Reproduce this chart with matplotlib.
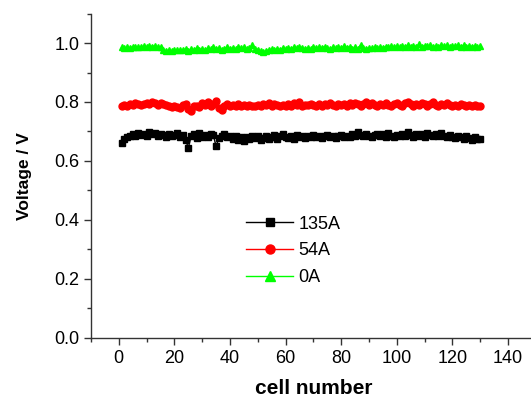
import numpy as np
import matplotlib
matplotlib.use("Agg")
import matplotlib.pyplot as plt
from matplotlib.ticker import MultipleLocator, FormatStrFormatter

cells = np.arange(1, 131)

v_0A = [0.985, 0.982, 0.986, 0.984, 0.987, 0.985, 0.988, 0.986, 0.989, 0.987,
        0.990, 0.988, 0.991, 0.987, 0.986, 0.975, 0.972, 0.976, 0.974, 0.977,
        0.975, 0.978, 0.976, 0.979, 0.974, 0.980, 0.977, 0.983, 0.978, 0.981,
        0.976, 0.982, 0.979, 0.985, 0.980, 0.983, 0.977, 0.981, 0.986, 0.979,
        0.984, 0.980, 0.988, 0.982, 0.985, 0.979, 0.983, 0.992, 0.981, 0.978,
        0.972, 0.970, 0.974, 0.976, 0.979, 0.977, 0.981, 0.978, 0.983, 0.980,
        0.984, 0.981, 0.986, 0.982, 0.988, 0.983, 0.980, 0.984, 0.981, 0.985,
        0.982, 0.986, 0.983, 0.988, 0.984, 0.980, 0.985, 0.982, 0.987, 0.983,
        0.989, 0.984, 0.988, 0.981, 0.985, 0.979, 0.994, 0.983, 0.980, 0.984,
        0.982, 0.986, 0.983, 0.987, 0.984, 0.988, 0.985, 0.989, 0.986, 0.990,
        0.985, 0.991, 0.987, 0.993, 0.986, 0.990, 0.988, 0.995, 0.987, 0.991,
        0.989, 0.993, 0.986, 0.990, 0.988, 0.994, 0.989, 0.992, 0.987, 0.991,
        0.989, 0.993, 0.988, 0.992, 0.987, 0.991, 0.988, 0.990, 0.986, 0.989]

v_54A = [0.785, 0.790, 0.788, 0.793, 0.790, 0.796, 0.792, 0.789, 0.794, 0.798,
         0.793, 0.799, 0.795, 0.791, 0.797, 0.794, 0.790, 0.786, 0.783, 0.788,
         0.784, 0.778, 0.790, 0.793, 0.775, 0.770, 0.785, 0.788, 0.782, 0.795,
         0.790, 0.800, 0.787, 0.793, 0.805, 0.778, 0.772, 0.788, 0.792, 0.786,
         0.790, 0.787, 0.792, 0.785, 0.789, 0.786, 0.791, 0.788, 0.785, 0.790,
         0.787, 0.792, 0.789, 0.795, 0.788, 0.793, 0.790, 0.786, 0.791, 0.788,
         0.792, 0.787, 0.795, 0.790, 0.800, 0.786, 0.791, 0.789, 0.794, 0.790,
         0.787, 0.792, 0.788, 0.794, 0.790, 0.796, 0.791, 0.787, 0.793, 0.789,
         0.792, 0.788, 0.795, 0.790, 0.798, 0.792, 0.788, 0.794, 0.801, 0.790,
         0.796, 0.791, 0.787, 0.793, 0.789, 0.795, 0.790, 0.786, 0.792, 0.797,
         0.791, 0.788, 0.795, 0.799, 0.792, 0.788, 0.794, 0.790, 0.797, 0.792,
         0.787, 0.793, 0.799, 0.791, 0.786, 0.792, 0.789, 0.795, 0.790, 0.787,
         0.791, 0.788, 0.793, 0.789, 0.786, 0.790, 0.787, 0.789, 0.785, 0.786]

v_135A = [0.660, 0.675, 0.680, 0.686, 0.690, 0.684, 0.694, 0.688, 0.692, 0.686,
          0.698, 0.690, 0.694, 0.685, 0.691, 0.687, 0.680, 0.692, 0.684, 0.688,
          0.696, 0.681, 0.688, 0.672, 0.645, 0.683, 0.690, 0.678, 0.694, 0.682,
          0.688, 0.680, 0.692, 0.687, 0.650, 0.678, 0.684, 0.690, 0.680, 0.686,
          0.676, 0.684, 0.672, 0.680, 0.669, 0.682, 0.675, 0.686, 0.678, 0.683,
          0.671, 0.679, 0.686, 0.673, 0.680, 0.688, 0.676, 0.683, 0.690, 0.681,
          0.679, 0.686, 0.676, 0.689, 0.681, 0.685, 0.678, 0.684, 0.680, 0.687,
          0.681, 0.686, 0.678, 0.683, 0.687, 0.680, 0.685, 0.679, 0.684, 0.688,
          0.682, 0.686, 0.680, 0.692, 0.684, 0.698, 0.688, 0.683, 0.690, 0.685,
          0.681, 0.688, 0.693, 0.684, 0.690, 0.682, 0.695, 0.686, 0.680, 0.689,
          0.683, 0.690, 0.685, 0.698, 0.687, 0.681, 0.693, 0.686, 0.690, 0.682,
          0.696, 0.688, 0.683, 0.691, 0.686, 0.694, 0.684, 0.680, 0.688, 0.682,
          0.679, 0.686, 0.681, 0.675, 0.683, 0.678, 0.672, 0.680, 0.676, 0.674]

plt.rcParams['font.family'] = ['Liberation Sans', 'DejaVu Sans']

fig = plt.figure(figsize=(5.31, 3.98), dpi=100)
# axes run off the right edge like the cropped original
ax = fig.add_axes([0.1714, 0.151, 0.8376, 0.815])

ax.plot(cells, v_135A, color='black', marker='s', ms=4.8, lw=1, label='135A')
ax.plot(cells, v_54A, color='red', marker='o', ms=5, lw=1, label='54A')
ax.plot(cells, v_0A, color='#00ff00', marker='^', ms=5, lw=1, label='0A')

ax.set_xlim(-10, 150)
ax.set_ylim(0, 1.1)
ax.set_xticks(np.arange(0, 141, 20))
ax.set_yticks(np.arange(0, 1.01, 0.2))
ax.xaxis.set_minor_locator(MultipleLocator(10))
ax.yaxis.set_minor_locator(MultipleLocator(0.1))
ax.yaxis.set_major_formatter(FormatStrFormatter('%.1f'))

for s in ['top', 'right']:
    ax.spines[s].set_visible(False)
for s in ['left', 'bottom']:
    ax.spines[s].set_color('#333333')
    ax.spines[s].set_linewidth(1)
ax.tick_params(which='major', direction='out', length=5, width=1, color='#333333', labelsize=13)
ax.tick_params(which='minor', direction='out', length=3, width=1, color='#333333')

ax.set_xlabel('cell number', fontsize=15, fontweight='bold', labelpad=9)
ax.set_ylabel('Voltage / V', fontsize=12.5, fontweight='bold', labelpad=16)

ax.legend(loc='center', bbox_to_anchor=(0.455, 0.268), frameon=False, fontsize=13,
          handlelength=2.6, handletextpad=0.3, labelspacing=0.55, markerscale=1.3)

fig.savefig('out.png', dpi=100)
